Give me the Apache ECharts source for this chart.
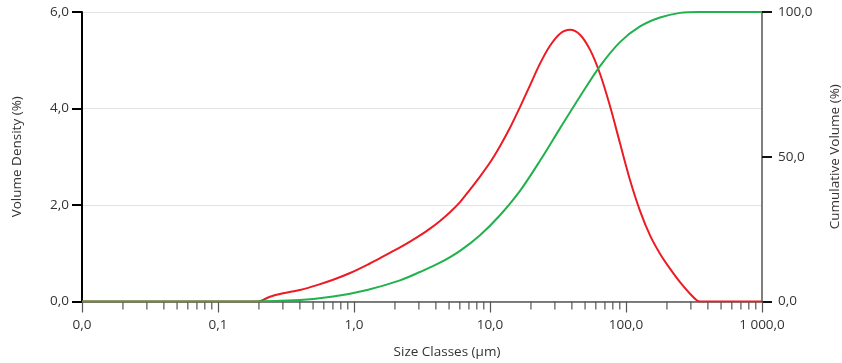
<!DOCTYPE html>
<html>
<head>
<meta charset="utf-8">
<script src="https://cdn.jsdelivr.net/npm/echarts@6/dist/echarts.min.js"></script>
<style>
  html, body { margin: 0; padding: 0; background: #fff; }
  #chart { width: 842px; height: 363px; }
</style>
</head>
<body>
<div id="chart"></div>
<script>
// size classes (um) and volume density (%)
var densitySizes = [0.01, 0.197, 0.241, 0.301, 0.401, 0.535, 0.702, 0.936, 1.25, 1.63, 2.179, 2.581, 3.057, 3.621,
    4.289, 5.080, 6.017, 7.127, 8.443, 10.0, 11.84, 14.03, 16.62, 19.68, 23.31, 27.62, 32.71, 38.74, 45.89, 54.36,
    64.39, 76.27, 90.34, 107.0, 126.8, 150.2, 177.8, 210.6, 249.5, 295.6, 332.8, 350.1, 1000];
var densityValues = [0, 0, 0.10, 0.17, 0.24, 0.34, 0.45, 0.59, 0.76, 0.93, 1.12, 1.24, 1.37, 1.51,
    1.67, 1.85, 2.06, 2.32, 2.59, 2.88, 3.22, 3.60, 4.03, 4.48, 4.93, 5.30, 5.55, 5.63, 5.53, 5.22,
    4.72, 4.05, 3.28, 2.52, 1.88, 1.37, 0.99, 0.68, 0.40, 0.16, 0.02, 0, 0];

// cumulative volume (%)
var cumulSizes = [0.01, 0.171, 0.401, 0.702, 1.25, 2.179, 3.057, 4.289, 6.017, 8.443, 11.84, 16.62, 23.31, 32.71,
    45.89, 64.39, 90.34, 126.8, 177.8, 249.5, 350.1, 1000];
var cumulValues = [0, 0, 0.5, 1.7, 4.0, 7.3, 10.2, 13.4, 17.5, 22.9, 29.8, 38.2, 48.6, 59.8,
    70.8, 81.3, 89.6, 95.0, 98.1, 99.7, 100, 100];

var leftTicks = ['0,0', '2,0', '4,0', '6,0'];
var rightTicks = ['0,0', '50,0', '100,0'];

// minor tick positions of the log axis (2..9 in every decade)
var minorTicks = [];
for (var e = -2; e < 3; e++) {
    for (var m = 2; m <= 9; m++) {
        minorTicks.push([m * Math.pow(10, e), 0]);
    }
}

function pairs(xs, ys) {
    var out = [];
    for (var i = 0; i < xs.length; i++) out.push([xs[i], ys[i]]);
    return out;
}

function fmt(v) {
    var s = (Math.round(v * 10) / 10).toFixed(1);
    var parts = s.split('.');
    var ip = parts[0].replace(/\B(?=(\d{3})+(?!\d))/g, ' ');
    return ip + ',' + parts[1];
}

var font = 'Open Sans';
var fs = 13.5;
var txt = '#333';

var myChart = echarts.init(document.getElementById('chart'));
var option = {
    animation: false,
    backgroundColor: '#fff',
    grid: { left: 82, right: 80, top: 12, bottom: 61.5, containLabel: false, outerBoundsMode: 'none' },
    xAxis: {
        type: 'log',
        logBase: 10,
        min: 0.01,
        max: 1000,
        name: 'Size Classes (µm)',
        nameLocation: 'middle',
        nameGap: 44,
        nameTextStyle: { fontFamily: font, fontSize: fs, color: txt, padding: [0, 0, 0, 50] },
        axisLine: { show: true, lineStyle: { color: '#555', width: 1.5 } },
        axisTick: { show: true, length: 11, lineStyle: { color: '#555', width: 1.2 } },
        axisLabel: { fontFamily: font, fontSize: fs, color: txt, margin: 17, formatter: fmt },
        splitLine: { show: false }
    },
    yAxis: [{
        type: 'value',
        min: 0,
        max: 6,
        interval: 2,
        name: 'Volume Density (%)',
        nameLocation: 'middle',
        nameGap: 58,
        nameTextStyle: { fontFamily: font, fontSize: fs, color: txt },
        axisLine: { show: true, lineStyle: { color: '#000', width: 2 } },
        axisTick: { show: true, length: 10, lineStyle: { color: '#000', width: 2 } },
        axisLabel: { fontFamily: font, fontSize: fs, color: txt, margin: 13,
            formatter: function(v) { return leftTicks[Math.round(v / 2)]; } },
        splitLine: { show: true, lineStyle: { color: '#e3e3e3', width: 1 } }
    }, {
        type: 'value',
        position: 'right',
        min: 0,
        max: 100,
        interval: 50,
        name: 'Cumulative Volume (%)',
        nameLocation: 'middle',
        nameGap: 66,
        nameRotate: 90,
        nameTextStyle: { fontFamily: font, fontSize: fs, color: txt },
        axisLine: { show: true, lineStyle: { color: '#555', width: 1.5 } },
        axisTick: { show: true, length: 10, lineStyle: { color: '#111', width: 2 } },
        axisLabel: { fontFamily: font, fontSize: fs, color: txt, margin: 16,
            formatter: function(v) { return rightTicks[Math.round(v / 50)]; } },
        splitLine: { show: false }
    }],
    series: [{
        name: 'Volume Density',
        type: 'line',
        yAxisIndex: 0,
        data: pairs(densitySizes, densityValues),
        symbol: 'none',
        smooth: 0.3,
        lineStyle: { color: '#ec1c24', width: 2 }
    }, {
        name: 'Cumulative Volume',
        type: 'line',
        yAxisIndex: 1,
        data: pairs(cumulSizes, cumulValues),
        symbol: 'none',
        smooth: 0.3,
        lineStyle: { color: '#22b14c', width: 2 }
    }, {
        name: 'minor ticks',
        type: 'custom',
        yAxisIndex: 0,
        silent: true,
        clip: false,
        data: minorTicks,
        renderItem: function(params, api) {
            var p = api.coord([api.value(0), 0]);
            return {
                type: 'line',
                shape: { x1: p[0], y1: p[1], x2: p[0], y2: p[1] + 8 },
                style: { stroke: '#555', lineWidth: 1.2 }
            };
        }
    }]
};
myChart.setOption(option);
</script>
</body>
</html>
